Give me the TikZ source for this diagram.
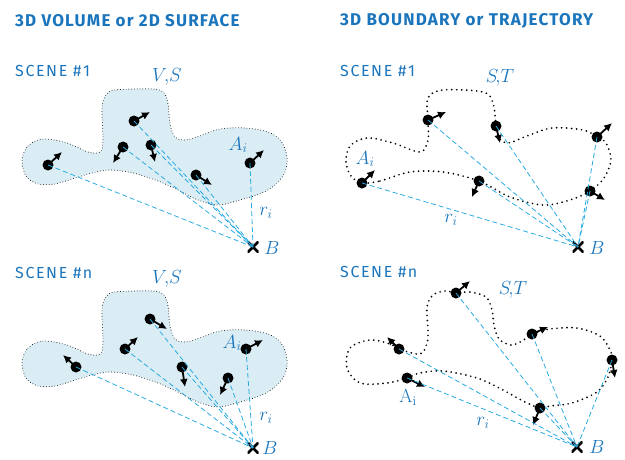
\documentclass[tikz,border=0pt]{standalone}
\usepackage{fix-cm}
\usepackage{fontspec}
\usetikzlibrary{arrows.meta}
\newfontfamily\ttlfont{Fira Sans}[LetterSpace=7]
\newfontfamily\scnfont{Fira Sans}[LetterSpace=10]
\definecolor{txtblue}{RGB}{27,117,188}
\definecolor{rayblue}{RGB}{41,171,226}
\definecolor{blobfill}{RGB}{219,237,244}
\tikzset{
  pdot/.style={circle,fill=black,inner sep=0pt,minimum size=11pt},
  vec/.style={line width=1.8pt,-{Latex[length=8pt,width=8pt]}},
  ray/.style={rayblue,line width=0.8pt,dash pattern=on 5pt off 3pt},
  fineline/.style={line width=0.9pt,dash pattern=on 0pt off 2.8pt,line cap=round},
  coarseline/.style={line width=1.9pt,dash pattern=on 0pt off 5pt,line cap=round},
  ttl/.style={txtblue,font=\ttlfont\bfseries\fontsize{17}{17}\selectfont,inner sep=0pt},
  scn/.style={txtblue,font=\scnfont\fontsize{16}{16}\selectfont,inner sep=0pt,anchor=west},
  mlab/.style={txtblue,font=\fontsize{19}{19}\selectfont,inner sep=0pt},
  crossmark/.style={inner sep=0pt,minimum size=11pt,path picture={
     \draw[line width=2.7pt] (path picture bounding box.south west) -- (path picture bounding box.north east)
     (path picture bounding box.north west) -- (path picture bounding box.south east);}},
  blob/.pic={
    \draw[fill=blobfill,fineline] plot[smooth cycle,tension=0.55] coordinates {
     (22,160) (28,146) (43,139) (67,143) (88,152) (100,152) (103,140) (102,108) (106,95) (115,90)
     (153,89) (164,93) (168,104) (170,124) (175,137) (185,140) (200,136) (220,129) (245,128)
     (268,132) (281,141) (287,157) (285,172) (276,184) (262,193) (240,200) (218,205) (198,200)
     (178,190) (158,181) (133,173) (110,170) (92,173) (72,179) (55,184) (38,184) (26,176)};
  }
}
% name, position, arrow tip
\newcommand\ptcl[3]{%
  \node[pdot] (#1) at (#2) {};
  \coordinate (#1t) at (#3);
  \draw[vec] (#1.center) -- (#1t);
}
\begin{document}
\begin{tikzpicture}[x=1pt,y=-1pt]
\useasboundingbox (0,0) rectangle (625,459);
% titles
\node[ttl,anchor=west] (t1) at (15,21) {3D VOLUME or 2D SURFACE};
\node[ttl,anchor=west] (t2) at (340,21) {3D BOUNDARY or TRAJECTORY};
\node[scn] (s1) at (15,71) {SCENE \#1};
\node[scn] (s2) at (340,71) {SCENE \#1};
\node[scn] (s3) at (15,273) {SCENE \#n};
\node[scn] (s4) at (340,272) {SCENE \#n};

% ---------- left scene 1
\pic at (0,0) {blob};
\node[crossmark] (B1) at (253,247) {};
\node[mlab] at (272,248) {$B$};
\node[mlab] at (167,77) {$V\!,\!S$};
\node[mlab] at (238,145) {$A_i$};
\node[mlab] at (266,213) {$r_i$};
\ptcl{la}{48,165}{62,152}
\ptcl{lb}{134,121}{150,112}
\ptcl{lc}{123,147}{113,163}
\ptcl{ld}{151,145}{155,162}
\ptcl{le}{196,175}{212,185}
\ptcl{lf}{250,163}{264,150}
\foreach \p in {la,lb,lc,ld,le,lf} \draw[ray] (\p.center) -- (B1.center);

% ---------- left scene n
\pic at (0,202) {blob};
\node[crossmark] (B2) at (253,448) {};
\node[mlab] at (270,448) {$B$};
\node[mlab] at (167,279) {$V\!,\!S$};
\node[mlab] at (232,343) {$A_i$};
\node[mlab] at (266,418) {$r_i$};
\ptcl{ma}{76,367}{63,355}
\ptcl{mb}{125,349}{138,337}
\ptcl{mc}{150,319}{167,329}
\ptcl{md}{182,367}{185,387}
\ptcl{me}{228,378}{220,395}
\ptcl{mf}{246,349}{263,340}
\foreach \p in {ma,mb,mc,md,me,mf} \draw[ray] (\p.center) -- (B2.center);

% ---------- right scene 1
\draw[coarseline] plot[smooth cycle,tension=0.55] coordinates {
 (362,183) (380,181) (410,172) (443,172) (479,181) (510,197) (543,205) (570,200) (590,191)
 (604,178) (611,160) (606,143) (597,137) (583,130) (552,128) (527,136) (508,143) (498,137)
 (496,126) (493,103) (483,92) (443,90) (428,98) (428,120) (428,140) (420,152) (393,143)
 (367,138) (350,146) (346,162) (351,176)};
\node[crossmark] (B3) at (578,247) {};
\node[mlab] at (597,248) {$B$};
\node[mlab] at (500,78) {$S\!,\!T$};
\node[mlab] at (365,159) {$A_i$};
\node[mlab] at (451,220) {$r_i$};
\ptcl{ra}{362,183}{375,170}
\ptcl{rb}{428,120}{446,112}
\ptcl{rc}{496,126}{500,143}
\ptcl{rd}{479,181}{472,197}
\ptcl{re}{590,191}{605,200}
\ptcl{rf}{597,137}{612,123}
\foreach \p in {ra,rb,rc,rd,re,rf} \draw[ray] (\p.center) -- (B3.center);

% ---------- right scene n
\draw[coarseline] plot[smooth cycle,tension=0.55] coordinates {
 (456,293) (470,292) (486,297) (492,310) (494,325) (499,339) (511,345) (522,341) (532,334)
 (550,329) (577,328) (600,336) (610,350) (612,360) (608,377) (597,392) (572,403) (550,406)
 (540,408) (523,401) (503,390) (477,378) (443,371) (420,373) (407,378) (387,383) (360,383)
 (347,368) (350,348) (370,340) (390,344) (399,349) (420,354) (427,343) (428,330) (427,307)
 (433,295) (445,291)};
\node[crossmark] (B4) at (577,447) {};
\node[mlab] at (597,447) {$B$};
\node[mlab] at (513,290) {$S\!,\!T$};
\node[mlab] at (408,397) {$\mathrm{A}_\mathrm{i}$};
\node[mlab] at (483,423) {$r_i$};
\ptcl{na}{456,293}{470,281}
\ptcl{nb}{399,349}{387,337}
\ptcl{nc}{407,378}{425,387}
\ptcl{nd}{532,334}{548,327}
\ptcl{ne}{612,360}{615,378}
\ptcl{nf}{540,408}{533,425}
\foreach \p in {na,nb,nc,nd,ne,nf} \draw[ray] (\p.center) -- (B4.center);
\end{tikzpicture}
\end{document}
